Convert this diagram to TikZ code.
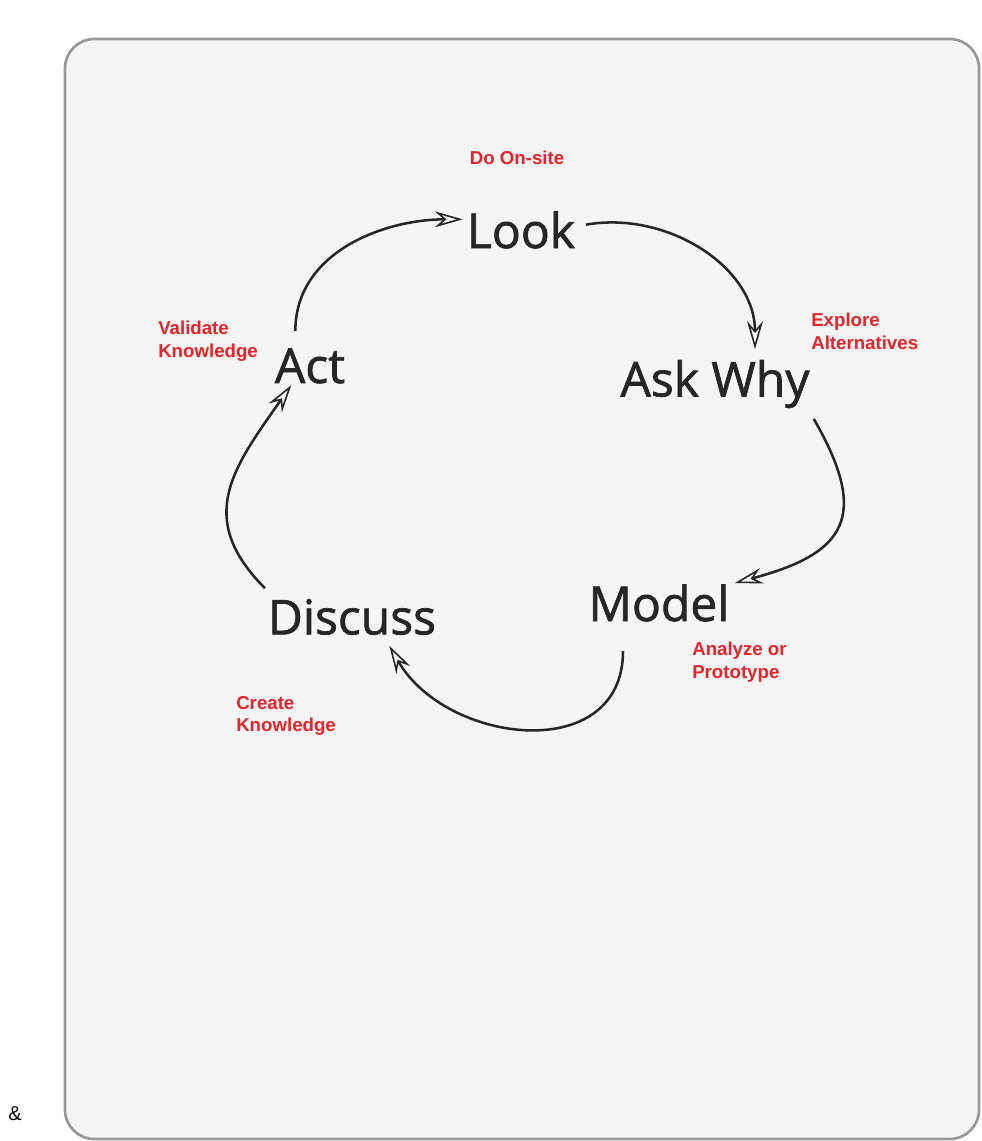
\documentclass[tikz,border=0pt]{standalone}
\usepackage{fontspec}
\setmainfont{Open Sans}
\newfontfamily\phasefont{Open Sans}[FakeBold=1.4]
\newfontfamily\notefont{Liberation Sans}
\usetikzlibrary{arrows.meta}

\definecolor{notered}{RGB}{232,35,42}
\definecolor{panelfill}{RGB}{245,245,245}
\definecolor{panelline}{RGB}{152,152,152}

\begin{document}
\begin{tikzpicture}[x=0.75pt, y=-0.75pt,
  phase/.style={font=\phasefont\fontsize{36}{40}\selectfont, text=black!85, inner sep=8pt},
  note/.style={font=\notefont\bfseries\fontsize{14}{17}\selectfont, text=notered, align=left, inner sep=0pt},
  cycle/.style={line width=1.9pt, black!85,
    -{Stealth[open, length=21pt, width=12pt, inset=7pt, line width=1.2pt]}}]
\useasboundingbox (0,0) rectangle (981,1141);

% panel behind the cycle
\draw[fill=panelfill, draw=panelline, line width=2pt, rounded corners=22pt]
  (65,39) rectangle (979,1139);

\node[phase] (look) at (521,230) {Look};
\node[phase] (ask) at (715,384) {Ask Why};
\node[phase] (model) at (659,603) {Model};
\node[phase] (discuss) at (352,617) {Discuss};
\node[phase] (act) at (310,366) {Act};

\node[note] (onsite) at (517,158) {Do On-site};
\node[note, anchor=west] (explore) at (811,331) {Explore\\Alternatives};
\node[note, anchor=west] (analyze) at (692,662) {Analyze or\\Prototype};
\node[note, anchor=west] (create) at (236,716) {Create\\Knowledge};
\node[note, anchor=west] (validate) at (158,341) {Validate\\Knowledge};

\node[font=\notefont\fontsize{15}{17}\selectfont] (amp) at (15,1114) {\&};

% the five steps, clockwise
\draw[cycle] ([xshift=-11pt,yshift=5pt]act.north) to[out=90, in=180] ([xshift=5pt,yshift=8pt]look.west);
\draw[cycle] ([yshift=4pt]look.east) to[out=10, in=90] ([xshift=30pt]ask.north);
\draw[cycle] ([xshift=-5pt]ask.south east) to[out=-60, in=15, looseness=1.6] ([xshift=-4pt,yshift=15pt]model.east);
\draw[cycle] ([xshift=-27pt,yshift=-14pt]model.south) to[out=-90, in=-60, looseness=1.25] ([xshift=28pt]discuss.south);
\draw[cycle] ([xshift=6pt]discuss.north west) to[out=135, in=-125, looseness=1.25] ([xshift=-14pt,yshift=7pt]act.south);
\end{tikzpicture}
\end{document}
